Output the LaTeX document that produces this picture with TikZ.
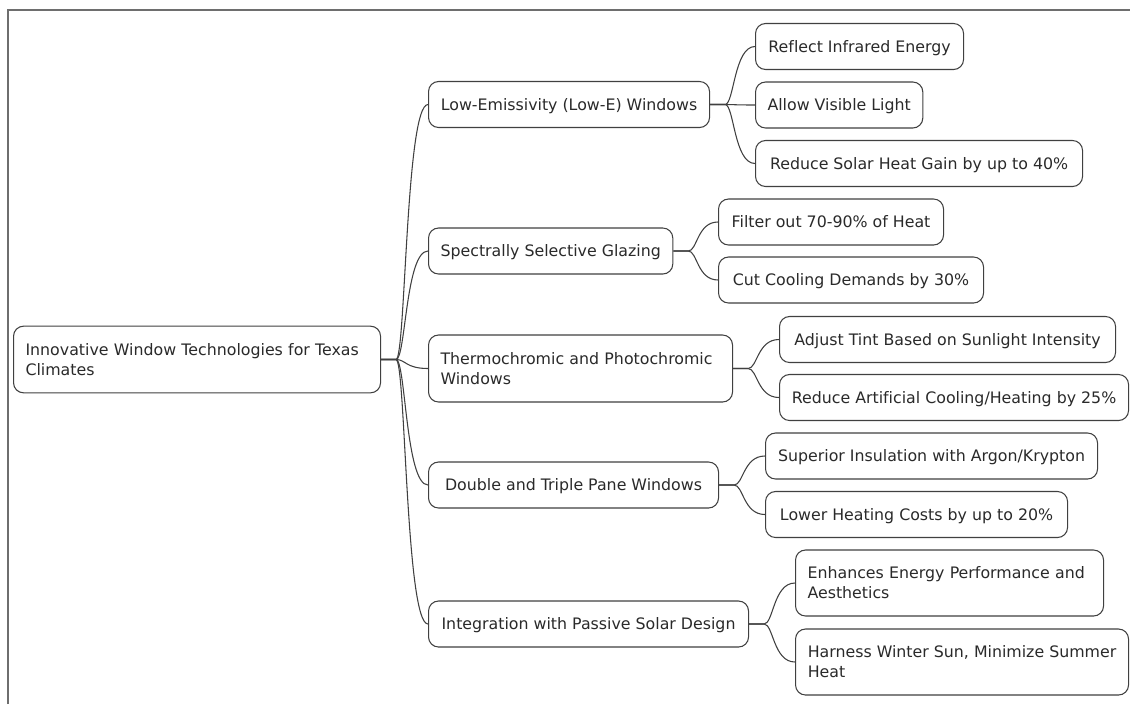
\documentclass[tikz,border=0pt]{standalone}
\usepackage{fontspec}
\setmainfont{DejaVu Sans}[Ligatures=CommonOff]
\usetikzlibrary{calc}
\definecolor{linec}{HTML}{404040}
\definecolor{textc}{HTML}{2A2A2A}
\definecolor{framec}{HTML}{6E6E6E}
\tikzset{
  box/.style={draw=linec, line width=0.8pt, rounded corners=7.5pt, fill=white,
    anchor=west, inner xsep=9pt, inner ysep=0pt, text=textc,
    font=\fontsize{11.85pt}{15pt}\selectfont},
  one/.style={box, minimum height=34.5pt, text height=10.9pt, text depth=2.3pt},
  two/.style={box, minimum height=50pt, align=left},
  wd/.style={minimum width=#1*0.75pt},
  tw/.style={text width=#1*0.75pt-18pt, minimum width=#1*0.75pt},
  conn/.style={draw=linec, line width=0.8pt},
}
\newcommand\linkto[2]{%
  \draw[conn] let \p1=(#1.east), \p2=(#2.west),
     \n1={\x1+11.25pt}, \n2={\x1+11.25pt+0.3*(\x2-\x1-11.25pt)} in
     (#1.east) -- (\n1,\y1) .. controls (\n2,\y1) and (\n2,\y2) .. (#2.west);}
\begin{document}
\begin{tikzpicture}[x=0.75pt, y=-0.75pt]
\useasboundingbox (0,0) rectangle (1130,704);
\draw[framec, line width=0.8pt] (8,704) -- (8,10) -- (1130,10);

% root
\node[two, tw=367] (root) at (13,359.5) {Innovative Window Technologies for Texas\\Climates};

% level 1
\node[one, wd=281] (a) at (428,104.5) {Low-Emissivity (Low-E) Windows};
\node[one, wd=243] (b) at (428,251) {Spectrally Selective Glazing};
\node[two, tw=304, minimum height=50.25pt] (c) at (428,368.5) {Thermochromic and Photochromic\\Windows};
\node[one, wd=290] (d) at (428,485) {Double and Triple Pane Windows};
\node[one, wd=320] (e) at (428,624) {Integration with Passive Solar Design};

% level 2
\node[one, wd=208] (a1) at (755,46.5) {Reflect Infrared Energy};
\node[one, wd=164] (a2) at (755,105) {Allow Visible Light};
\node[one, wd=327] (a3) at (755,163.5) {Reduce Solar Heat Gain by up to 40\%};
\node[one, wd=225] (b1) at (718,222) {Filter out 70-90\% of Heat};
\node[one, wd=265] (b2) at (718,280) {Cut Cooling Demands by 30\%};
\node[one, wd=336] (c1) at (779,339.5) {Adjust Tint Based on Sunlight Intensity};
\node[one, wd=349] (c2) at (779,397.5) {Reduce Artificial Cooling/Heating by 25\%};
\node[one, wd=332] (d1) at (765,456) {Superior Insulation with Argon/Krypton};
\node[one, wd=302] (d2) at (765,514.5) {Lower Heating Costs by up to 20\%};
\node[two, tw=308, minimum height=49.5pt] (e1) at (795,583) {Enhances Energy Performance and\\Aesthetics};
\node[two, wd=333, minimum height=49.5pt] (e2) at (795,662) {Harness Winter Sun, Minimize Summer\\Heat};

% connectors
\foreach \c in {a,b,c,d,e} {\linkto{root}{\c}}
\foreach \c in {a1,a2,a3} {\linkto{a}{\c}}
\foreach \c in {b1,b2} {\linkto{b}{\c}}
\foreach \c in {c1,c2} {\linkto{c}{\c}}
\foreach \c in {d1,d2} {\linkto{d}{\c}}
\foreach \c in {e1,e2} {\linkto{e}{\c}}
\end{tikzpicture}
\end{document}
